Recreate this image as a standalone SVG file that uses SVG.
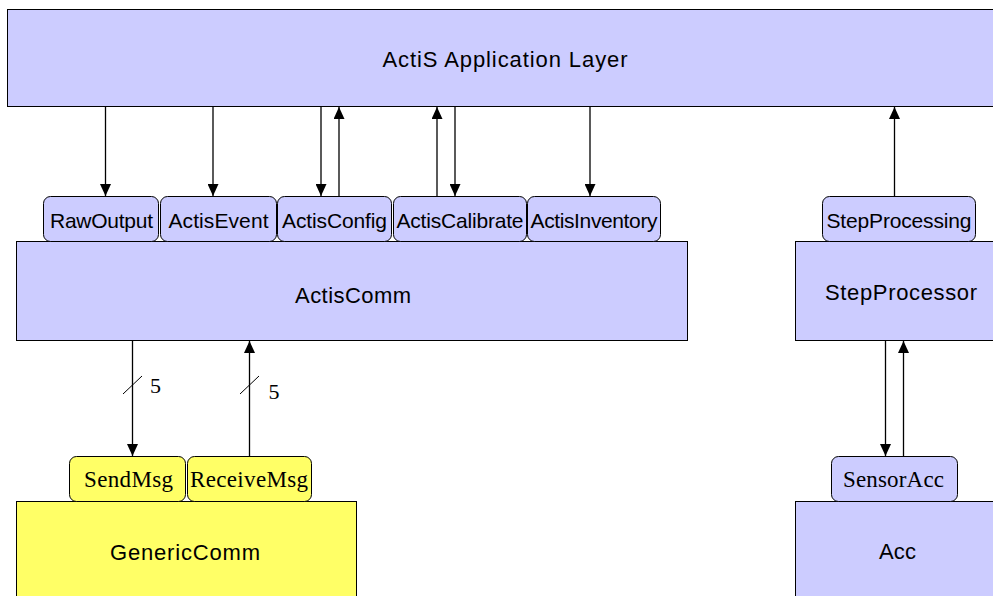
<svg xmlns="http://www.w3.org/2000/svg" width="993" height="596" viewBox="0 0 993 596">
  <defs>
    <marker id="arrow" viewBox="0 0 12 11" refX="12" refY="5.5" markerWidth="12" markerHeight="11" markerUnits="userSpaceOnUse" orient="auto">
      <path d="M0,0 L12,5.5 L0,11 Z" fill="#000"/>
    </marker>
    <style>
      .blk { fill: #CCCCFF; stroke: #000; stroke-width: 1; }
      .ylw { fill: #FFFF66; stroke: #000; stroke-width: 1; }
      .big { font-family: "Liberation Sans", Arial, sans-serif; font-size: 22px; fill: #000; text-anchor: middle; }
      .port { font-family: "Liberation Sans", Arial, sans-serif; font-size: 21px; fill: #000; text-anchor: middle; }
      .sport { font-family: "Liberation Serif", "Times New Roman", serif; font-size: 23px; fill: #000; text-anchor: middle; }
      .num { font-family: "Liberation Serif", "Times New Roman", serif; font-size: 22px; fill: #000; }
      .wire { stroke: #000; stroke-width: 1.3; fill: none; marker-end: url(#arrow); }
      .tick { stroke: #000; stroke-width: 1; fill: none; }
    </style>
  </defs>
  <rect width="993" height="596" fill="#fff"/>

  <!-- application layer -->
  <g id="app-layer">
    <rect class="blk" x="7.5" y="9.5" width="1000" height="97"/>
    <text class="big" x="505" y="67" textLength="245" lengthAdjust="spacing">ActiS Application Layer</text>
  </g>

  <!-- ActisComm component and its interfaces -->
  <g id="actiscomm">
    <rect class="blk" x="16.5" y="241.5" width="671" height="99"/>
    <text class="big" x="353" y="303" textLength="116" lengthAdjust="spacing">ActisComm</text>
  </g>
  <g id="rawoutput">
    <rect class="blk" x="43.5" y="196.5" width="115" height="45" rx="7"/>
    <text class="port" x="101.5" y="228" textLength="103" lengthAdjust="spacing">RawOutput</text>
  </g>
  <g id="actisevent">
    <rect class="blk" x="160.5" y="196.5" width="116" height="45" rx="7"/>
    <text class="port" x="218.5" y="228" textLength="100" lengthAdjust="spacing">ActisEvent</text>
  </g>
  <g id="actisconfig">
    <rect class="blk" x="277.5" y="196.5" width="114" height="45" rx="7"/>
    <text class="port" x="334.5" y="228" textLength="105" lengthAdjust="spacing">ActisConfig</text>
  </g>
  <g id="actiscalibrate">
    <rect class="blk" x="393.5" y="196.5" width="133" height="45" rx="7"/>
    <text class="port" x="460" y="228" textLength="127" lengthAdjust="spacing">ActisCalibrate</text>
  </g>
  <g id="actisinventory">
    <rect class="blk" x="527.5" y="196.5" width="133" height="45" rx="7"/>
    <text class="port" x="594" y="228" textLength="127" lengthAdjust="spacing">ActisInventory</text>
  </g>

  <!-- StepProcessor component -->
  <g id="stepprocessor">
    <rect class="blk" x="795.5" y="241.5" width="210" height="99"/>
    <text class="big" x="901" y="300" textLength="152" lengthAdjust="spacing">StepProcessor</text>
  </g>
  <g id="stepprocessing">
    <rect class="blk" x="822.5" y="196.5" width="153" height="45" rx="7"/>
    <text class="port" x="899" y="228" textLength="145" lengthAdjust="spacing">StepProcessing</text>
  </g>

  <!-- GenericComm component -->
  <g id="genericcomm">
    <rect class="ylw" x="16.5" y="501.5" width="340" height="110"/>
    <text class="big" x="185" y="560" textLength="150" lengthAdjust="spacing">GenericComm</text>
  </g>
  <g id="sendmsg">
    <rect class="ylw" x="69.5" y="456.5" width="116" height="45" rx="7"/>
    <text class="sport" x="128.5" y="487" textLength="89" lengthAdjust="spacing">SendMsg</text>
  </g>
  <g id="receivemsg">
    <rect class="ylw" x="187.5" y="456.5" width="124" height="45" rx="7"/>
    <text class="sport" x="249" y="487" textLength="118" lengthAdjust="spacing">ReceiveMsg</text>
  </g>

  <!-- Acc component -->
  <g id="acc">
    <rect class="blk" x="795.5" y="501.5" width="210" height="110"/>
    <text class="big" x="897.5" y="559" textLength="37" lengthAdjust="spacing">Acc</text>
  </g>
  <g id="sensoracc">
    <rect class="blk" x="831.5" y="456.5" width="126" height="45" rx="7"/>
    <text class="sport" x="893.5" y="487" textLength="101" lengthAdjust="spacing">SensorAcc</text>
  </g>

  <!-- connectors -->
  <g id="connectors">
    <line class="wire" x1="105.5" y1="107" x2="105.5" y2="196"/>
    <line class="wire" x1="213" y1="107" x2="213" y2="196"/>
    <line class="wire" x1="321" y1="107" x2="321" y2="196"/>
    <line class="wire" x1="339" y1="196" x2="339" y2="107"/>
    <line class="wire" x1="437" y1="196" x2="437" y2="107"/>
    <line class="wire" x1="455" y1="107" x2="455" y2="196"/>
    <line class="wire" x1="590" y1="107" x2="590" y2="196"/>
    <line class="wire" x1="894.5" y1="196" x2="894.5" y2="107"/>

    <line class="wire" x1="132.5" y1="341" x2="132.5" y2="456"/>
    <line class="wire" x1="249.5" y1="456" x2="249.5" y2="341"/>
    <line class="tick" x1="123" y1="394" x2="142" y2="376"/>
    <line class="tick" x1="240" y1="394" x2="259" y2="376"/>
    <text class="num" x="150" y="393">5</text>
    <text class="num" x="268.5" y="399">5</text>

    <line class="wire" x1="885.5" y1="341" x2="885.5" y2="456"/>
    <line class="wire" x1="903.5" y1="456" x2="903.5" y2="341"/>
  </g>
</svg>
